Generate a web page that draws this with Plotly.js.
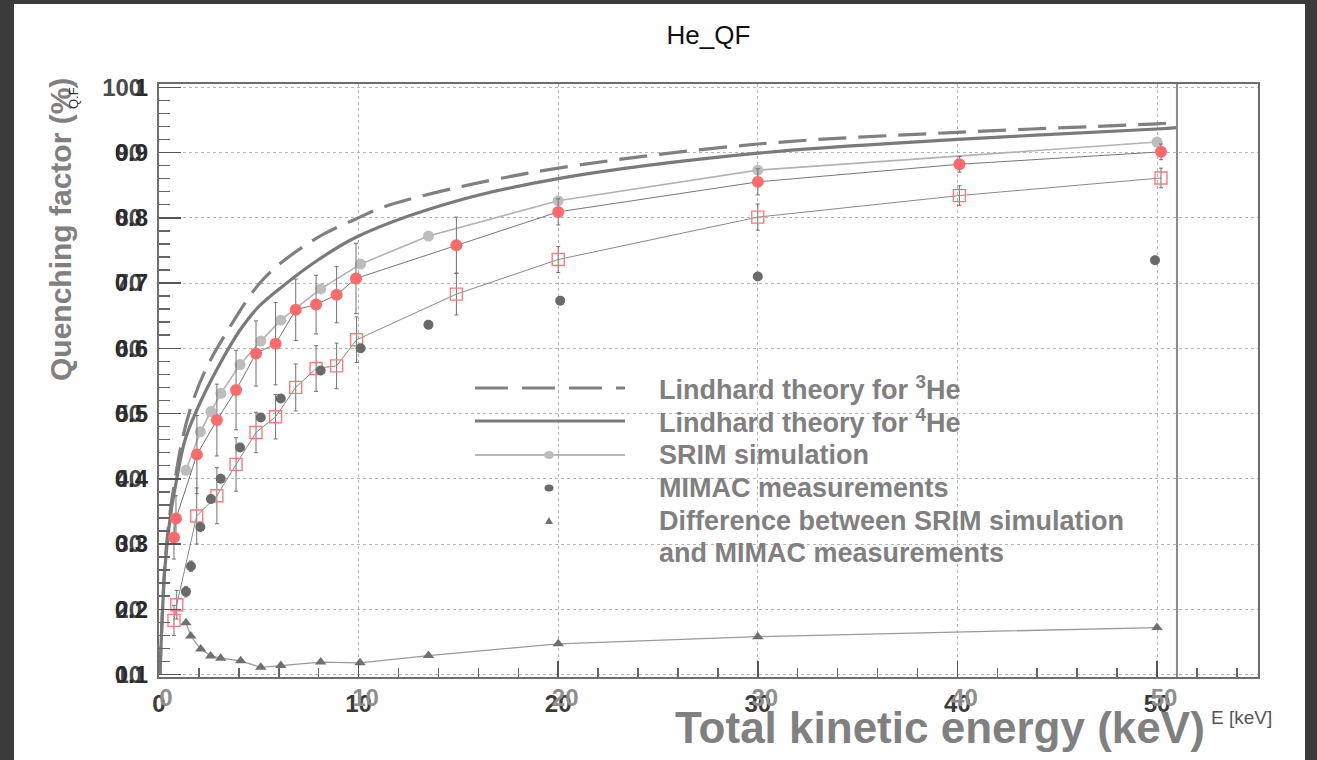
<!DOCTYPE html>
<html>
<head>
<meta charset="utf-8">
<script src="https://cdn.plot.ly/plotly-3.0.1.min.js"></script>
<style>
  html, body { margin: 0; padding: 0; background: #3b3b3b; width: 1317px; height: 760px; overflow: hidden; }
  #chart { position: absolute; left: 14px; top: 4px; width: 1291px; height: 756px; background: #fff; }
</style>
</head>
<body>
<div id="chart"></div>
<script>
// ---- Data ----
// Lindhard theory for 3He (dashed)
const lind3X = [0.05, 0.13, 0.3, 0.55, 0.8, 1.14, 1.55, 2.3, 3.5, 5.0, 6.2, 8.2, 10, 11.2, 14.6, 20, 30, 40, 50, 51];
const lind3Y = [10, 16.8, 27, 34.7, 39.8, 45.6, 50.5, 56.5, 63.0, 69.8, 73.3, 77.4, 80.0, 81.6, 84.4, 87.6, 91.3, 93.1, 94.4, 94.6];
// Lindhard theory for 4He (solid)
const lind4X = [0.05, 0.13, 0.3, 0.55, 0.8, 1.3, 1.89, 2.89, 4.06, 5.0, 6.23, 8, 10, 14.6, 20, 30, 40, 50, 51];
const lind4Y = [10, 16.5, 26.5, 33.8, 38.5, 45.9, 50.5, 56.7, 62.8, 66.4, 69.6, 73.6, 77.2, 82.3, 86.0, 89.9, 92.0, 93.6, 93.8];
// SRIM simulation
const srimX = [1.35, 2.07, 2.6, 3.1, 4.06, 5.1, 6.1, 8.1, 10.1, 13.5, 20, 30, 50];
const srimY = [41.3, 47.2, 50.3, 53.1, 57.5, 61.1, 64.3, 69.1, 72.9, 77.2, 82.6, 87.3, 91.6];
// MIMAC measurements
const mimacX = [1.35, 1.6, 2.07, 2.6, 3.09, 4.06, 5.1, 6.1, 8.1, 10.1, 13.5, 20.1, 30, 49.9];
const mimacY = [22.7, 26.6, 32.6, 36.9, 40.0, 44.8, 49.4, 52.3, 56.6, 60.0, 63.6, 67.3, 71.0, 73.5];
const mimacErr = [0.8, 0.8, 0.6, 0.6, 0.6, 0.6, 0.6, 0.6, 0.6, 0.6, 0.6, 0.6, 0.6, 0.6];
// Red filled circles
const redX = [0.75, 0.85, 1.9, 2.9, 3.86, 4.86, 5.84, 6.85, 7.87, 8.9, 9.87, 14.9, 20, 30, 40.1, 50.2];
const redY = [31.0, 33.9, 43.7, 49.0, 53.6, 59.2, 60.7, 65.9, 66.7, 68.2, 70.7, 75.8, 80.9, 85.5, 88.2, 90.1];
const redErr = [3.3, 3.5, 6.0, 5.5, 6.1, 5.0, 6.3, 4.7, 4.5, 4.3, 5.4, 4.3, 2.0, 2.0, 1.2, 1.2];
// Red open squares
const sqX = [0.75, 0.89, 1.89, 2.9, 3.86, 4.86, 5.84, 6.85, 7.87, 8.9, 9.9, 14.9, 20, 30, 40.1, 50.2];
const sqY = [18.3, 20.7, 34.3, 37.4, 42.2, 47.1, 49.5, 54.0, 56.9, 57.3, 61.3, 68.3, 73.6, 80.1, 83.4, 86.1];
const sqErr = [2.3, 2.2, 4.3, 4.3, 4.1, 3.1, 3.4, 3.6, 3.5, 3.5, 3.5, 3.2, 2.0, 2.0, 1.5, 1.5];
// Difference between SRIM simulation and MIMAC measurements
const diffX = [1.35, 1.59, 2.09, 2.59, 3.09, 4.09, 5.1, 6.1, 8.1, 10.07, 13.5, 20, 30, 50];
const diffY = [17.95, 15.9, 13.9, 12.85, 12.5, 12.1, 11.1, 11.4, 11.9, 11.8, 12.9, 14.7, 15.8, 17.2];
// Tick labels
const xTicks = [0, 10, 20, 30, 40, 50];
const yTicks = [10, 20, 30, 40, 50, 60, 70, 80, 90, 100];
const yFracTicks = [0.1, 0.2, 0.3, 0.4, 0.5, 0.6, 0.7, 0.8, 0.9, 1];
const yFracText = ["0.1", "0.2", "0.3", "0.4", "0.5", "0.6", "0.7", "0.8", "0.9", "1"];
const legendLabels = ["Lindhard theory for <sup>3</sup>He", "Lindhard theory for <sup>4</sup>He",
  "SRIM simulation", "MIMAC measurements", "Difference between SRIM simulation", "and MIMAC measurements"];

// ---- Layout constants ----
const X_RANGE = [0, 55.06];
const Y_RANGE = [9.62, 100.5];
const FONT = "Liberation Sans, Arial, sans-serif";

const traces = [
  {x: lind3X, y: lind3Y, mode: 'lines', line: {color: '#808080', width: 3.2, dash: '28px,12px', shape: 'spline', smoothing: 1}, hoverinfo: 'skip'},
  {x: lind4X, y: lind4Y, mode: 'lines', line: {color: '#7a7a7a', width: 3.2, shape: 'spline', smoothing: 1}, hoverinfo: 'skip'},
  {x: sqX, y: sqY, mode: 'lines+markers', line: {color: '#8a8a8a', width: 1},
   marker: {symbol: 'square-open', size: 12, color: '#ff7b7b', line: {width: 1.4, color: '#ff7b7b'}},
   error_y: {type: 'data', array: sqErr, color: '#707070', thickness: 1, width: 2}},
  {x: srimX, y: srimY, mode: 'lines+markers', line: {color: '#b3b3b3', width: 1.6},
   marker: {symbol: 'circle', size: 11, color: '#bdbdbd'}},
  {x: redX, y: redY, mode: 'lines+markers', line: {color: '#777', width: 1},
   marker: {symbol: 'circle', size: 12, color: '#ff6b6b'},
   error_y: {type: 'data', array: redErr, color: '#707070', thickness: 1, width: 2}},
  {x: mimacX, y: mimacY, mode: 'markers',
   marker: {symbol: 'circle', size: 10, color: '#6a6a6a'},
   error_y: {type: 'data', array: mimacErr, color: '#777', thickness: 1, width: 2}},
  {x: diffX, y: diffY, mode: 'lines+markers', line: {color: '#9a9a9a', width: 1.3},
   marker: {symbol: 'triangle-up', size: 10, color: '#707070'}},
  // empty trace that activates the overlay axes (labels of the second, superimposed picture)
  {x: [], y: [], xaxis: 'x2', yaxis: 'y2', mode: 'markers', showlegend: false}
];

// Manual legend (line/marker samples + text) in paper coordinates
const px2x = (ax) => (ax - 159) / 1099;
const px2y = (ay) => (677 - ay) / 593;
const rowsY = [388, 421, 455, 488, 521, 553].map(px2y);
const sx0 = px2x(475), sx1 = px2x(625), smid = px2x(549), tx = px2x(657);

const shapes = [
  // inner frame of the superimposed picture
  {type: 'line', xref: 'x', yref: 'paper', x0: 51.0, x1: 51.0, y0: 0, y1: 1, line: {color: '#8a8a8a', width: 2}},
  // legend samples
  {type: 'line', xref: 'paper', yref: 'paper', x0: sx0, x1: sx1, y0: rowsY[0], y1: rowsY[0], line: {color: '#808080', width: 3, dash: '33px,14px'}},
  {type: 'line', xref: 'paper', yref: 'paper', x0: sx0, x1: sx1, y0: rowsY[1], y1: rowsY[1], line: {color: '#7a7a7a', width: 3}},
  {type: 'line', xref: 'paper', yref: 'paper', x0: sx0, x1: sx1, y0: rowsY[2], y1: rowsY[2], line: {color: '#b8b8b8', width: 2}},
  {type: 'circle', xref: 'paper', yref: 'paper', xsizemode: 'pixel', ysizemode: 'pixel', xanchor: smid, yanchor: rowsY[2],
   x0: -5, x1: 5, y0: -4, y1: 4, fillcolor: '#bdbdbd', line: {width: 0}},
  {type: 'circle', xref: 'paper', yref: 'paper', xsizemode: 'pixel', ysizemode: 'pixel', xanchor: smid, yanchor: rowsY[3],
   x0: -4.5, x1: 4.5, y0: -3.5, y1: 3.5, fillcolor: '#6a6a6a', line: {width: 0}},
  {type: 'path', xref: 'paper', yref: 'paper', xsizemode: 'pixel', ysizemode: 'pixel', xanchor: smid, yanchor: rowsY[4],
   path: 'M -4 -3 L 4 -3 L 0 4 Z', fillcolor: '#707070', line: {width: 0}}
];

const annotations = legendLabels.map((t, i) => ({
  xref: 'paper', yref: 'paper', x: tx, y: rowsY[i], xanchor: 'left', yanchor: 'middle', showarrow: false,
  text: '<b>' + t + '</b>', font: {family: FONT, size: 27, color: '#808080'}
}));
annotations.push(
  {xref: 'paper', yref: 'paper', x: px2x(1207), y: px2y(727), xanchor: 'right', yanchor: 'middle', showarrow: false,
   text: '<b>Total kinetic energy (keV)</b>', font: {family: FONT, size: 44, color: '#808080'}},
  {xref: 'paper', yref: 'paper', x: px2x(1209), y: px2y(717), xanchor: 'left', yanchor: 'middle', showarrow: false,
   text: 'E [keV]', font: {family: FONT, size: 19, color: '#555'}},
  {xref: 'paper', yref: 'paper', x: px2x(60), y: px2y(230), xanchor: 'center', yanchor: 'middle', showarrow: false, textangle: -90,
   text: '<b>Quenching factor (%)</b>', font: {family: FONT, size: 30, color: '#808080'}},
  {xref: 'paper', yref: 'paper', x: px2x(74), y: px2y(97), xanchor: 'center', yanchor: 'middle', showarrow: false, textangle: -90,
   text: 'Q.F.', font: {family: FONT, size: 13, color: '#333'}}
);

const axisCommon = {
  showline: true, mirror: true, linecolor: '#6e6e6e', linewidth: 2,
  ticks: 'inside', tickcolor: '#555', tickwidth: 1.5,
  showgrid: true, gridcolor: '#b5b5b5', gridwidth: 1, griddash: 'dot', zeroline: false,
  tickfont: {family: FONT, size: 24, color: '#3a3a3a', weight: 'bold'}
};

const layout = {
  width: 1291, height: 756,
  margin: {l: 145, r: 47, t: 80, b: 83},
  paper_bgcolor: '#ffffff', plot_bgcolor: '#ffffff',
  showlegend: false,
  title: {text: 'He_QF', x: 0.5, xref: 'paper', y: 1 - 31 / 756, yanchor: 'middle', font: {family: FONT, size: 26, color: '#111'}},
  xaxis: Object.assign({}, axisCommon, {
    range: X_RANGE, tickvals: xTicks, ticklen: 16,
    minor: {dtick: 2, ticklen: 9, tickcolor: '#666', ticks: 'inside', showgrid: false},
    ticklabelstandoff: 4
  }),
  yaxis: Object.assign({}, axisCommon, {
    range: Y_RANGE, tickvals: yTicks, ticklen: 22,
    minor: {dtick: 2, ticklen: 11, tickcolor: '#666', ticks: 'inside', showgrid: false},
    ticklabelstandoff: 10,
    tickfont: {family: FONT, size: 24, color: '#4a4a4a', weight: 'bold'}
  }),
  xaxis2: {
    overlaying: 'x', anchor: 'y', side: 'bottom', range: X_RANGE, tickvals: xTicks,
    showline: false, showgrid: false, zeroline: false, ticks: '', ticklabelshift: 7, ticklabelstandoff: 4,
    tickfont: {family: FONT, size: 24, color: '#8e8e8e', weight: 'bold'}
  },
  yaxis2: {
    overlaying: 'y', anchor: 'x', side: 'left',
    range: [Y_RANGE[0] / 100, Y_RANGE[1] / 100], tickvals: yFracTicks, ticktext: yFracText,
    showline: false, showgrid: false, zeroline: false, ticks: '', ticklabelstandoff: 10,
    tickfont: {family: FONT, size: 24, color: '#2a2a2a', weight: 'bold'}
  },
  shapes: shapes,
  annotations: annotations
};

Plotly.newPlot('chart', traces, layout, {displayModeBar: false, staticPlot: true});
</script>
</body>
</html>
